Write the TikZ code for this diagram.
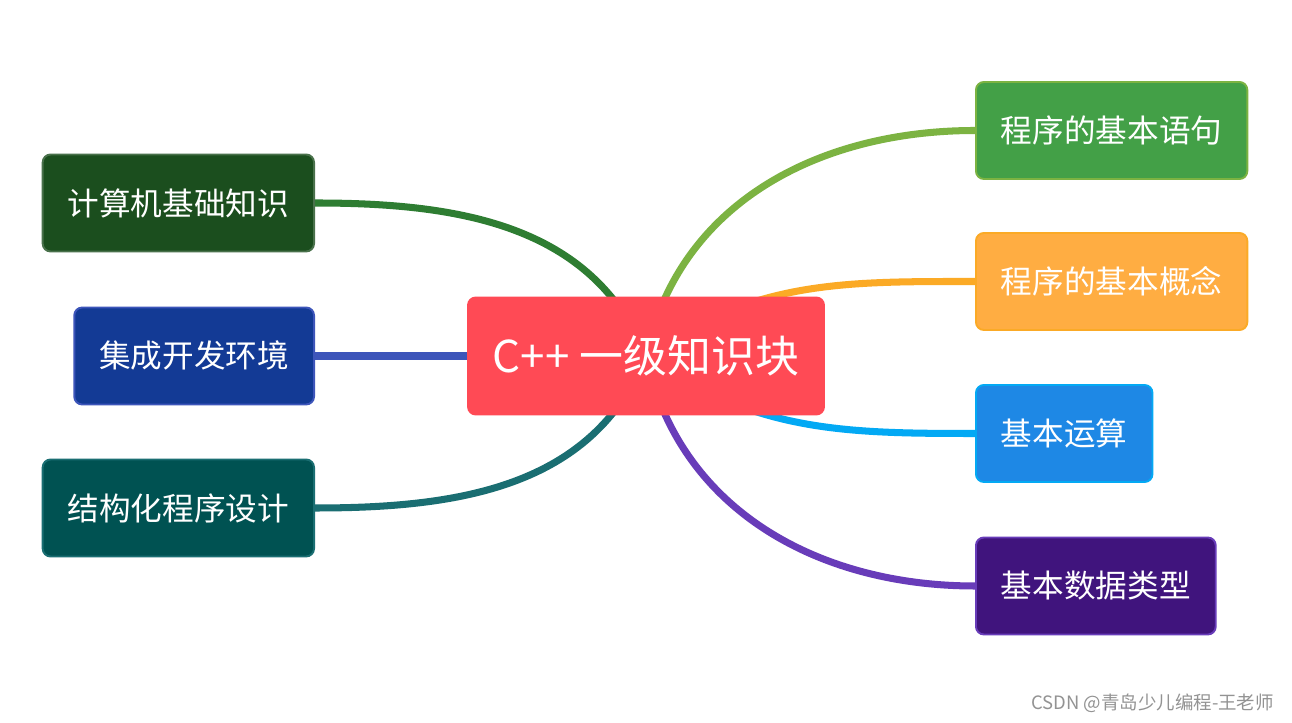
\documentclass[tikz,border=0pt]{standalone}
\usepackage{fontspec}
\setmainfont{Noto Sans CJK SC}
\usetikzlibrary{positioning,backgrounds}

\definecolor{rootred}{HTML}{FF4A55}
\definecolor{jsjfill}{HTML}{1B4E1E}
\definecolor{jsjline}{HTML}{2E7D32}
\definecolor{jcfill}{HTML}{133A95}
\definecolor{jcline}{HTML}{3D55BA}
\definecolor{jgfill}{HTML}{005252}
\definecolor{jgline}{HTML}{1A6E72}
\definecolor{yjfill}{HTML}{43A047}
\definecolor{yjline}{HTML}{7CB342}
\definecolor{gnfill}{HTML}{FFAD42}
\definecolor{gnline}{HTML}{FBAA26}
\definecolor{ysfill}{HTML}{1E88E5}
\definecolor{ysline}{HTML}{03A9F4}
\definecolor{sjfill}{HTML}{40147D}
\definecolor{sjline}{HTML}{683CB9}

\begin{document}
\begin{tikzpicture}[x=0.02cm, y=0.02cm,
    every node/.style={font=\fontsize{18}{22}\selectfont, text=white},
    box/.style={draw, rounded corners=4.5pt, line width=1.1pt,
                minimum height=1.94cm, inner xsep=0.5cm, inner ysep=0pt},
    rootbox/.style={fill=rootred, rounded corners=5pt, minimum width=7.16cm,
                minimum height=2.38cm, font=\fontsize{25}{29}\selectfont},
    link/.style={line width=4pt}
  ]
  \useasboundingbox (0,0) rectangle (1292,723);

  \node[rootbox] (root) at (646,367) {C++ 一级知识块};

  \node[box, fill=jsjfill, draw=jsjfill!80!white, anchor=east] (jsj) at (315,520) {计算机基础知识};
  \node[box, fill=jcfill, draw=jcline, anchor=east]            (jc)  at (315,367) {集成开发环境};
  \node[box, fill=jgfill, draw=jgline, anchor=east]            (jg)  at (315,215) {结构化程序设计};

  \node[box, fill=yjfill, draw=yjline, anchor=west] (yj) at (975,592.5) {程序的基本语句};
  \node[box, fill=gnfill, draw=gnline, anchor=west] (gn) at (975,441.5) {程序的基本概念};
  \node[box, fill=ysfill, draw=ysline, anchor=west] (ys) at (975,289.5) {基本运算};
  \node[box, fill=sjfill, draw=sjline, anchor=west] (sj) at (975,137)   {基本数据类型};

  \node[anchor=east, text=gray!85, font=\fontsize{10.5}{12}\selectfont] (mark) at (1280,20)
    {CSDN @青岛少儿编程-王老师};

  \begin{pgfonlayer}{background}
    \fill[white] (0,0) rectangle (1292,723);
    \draw[link, jsjline] (root.center) to[out=112, in=0]  (jsj.east);
    \draw[link, jcline]  (root.center) -- (jc.east);
    \draw[link, jgline]  (root.center) to[out=-112, in=0] (jg.east);
    \draw[link, yjline]  (root.center) to[out=78, in=180]  (yj.west);
    \draw[link, gnline]  (root.center) to[out=35, in=180]  (gn.west);
    \draw[link, ysline]  (root.center) to[out=-35, in=180] (ys.west);
    \draw[link, sjline]  (root.center) to[out=-78, in=180] (sj.west);
  \end{pgfonlayer}
\end{tikzpicture}
\end{document}
